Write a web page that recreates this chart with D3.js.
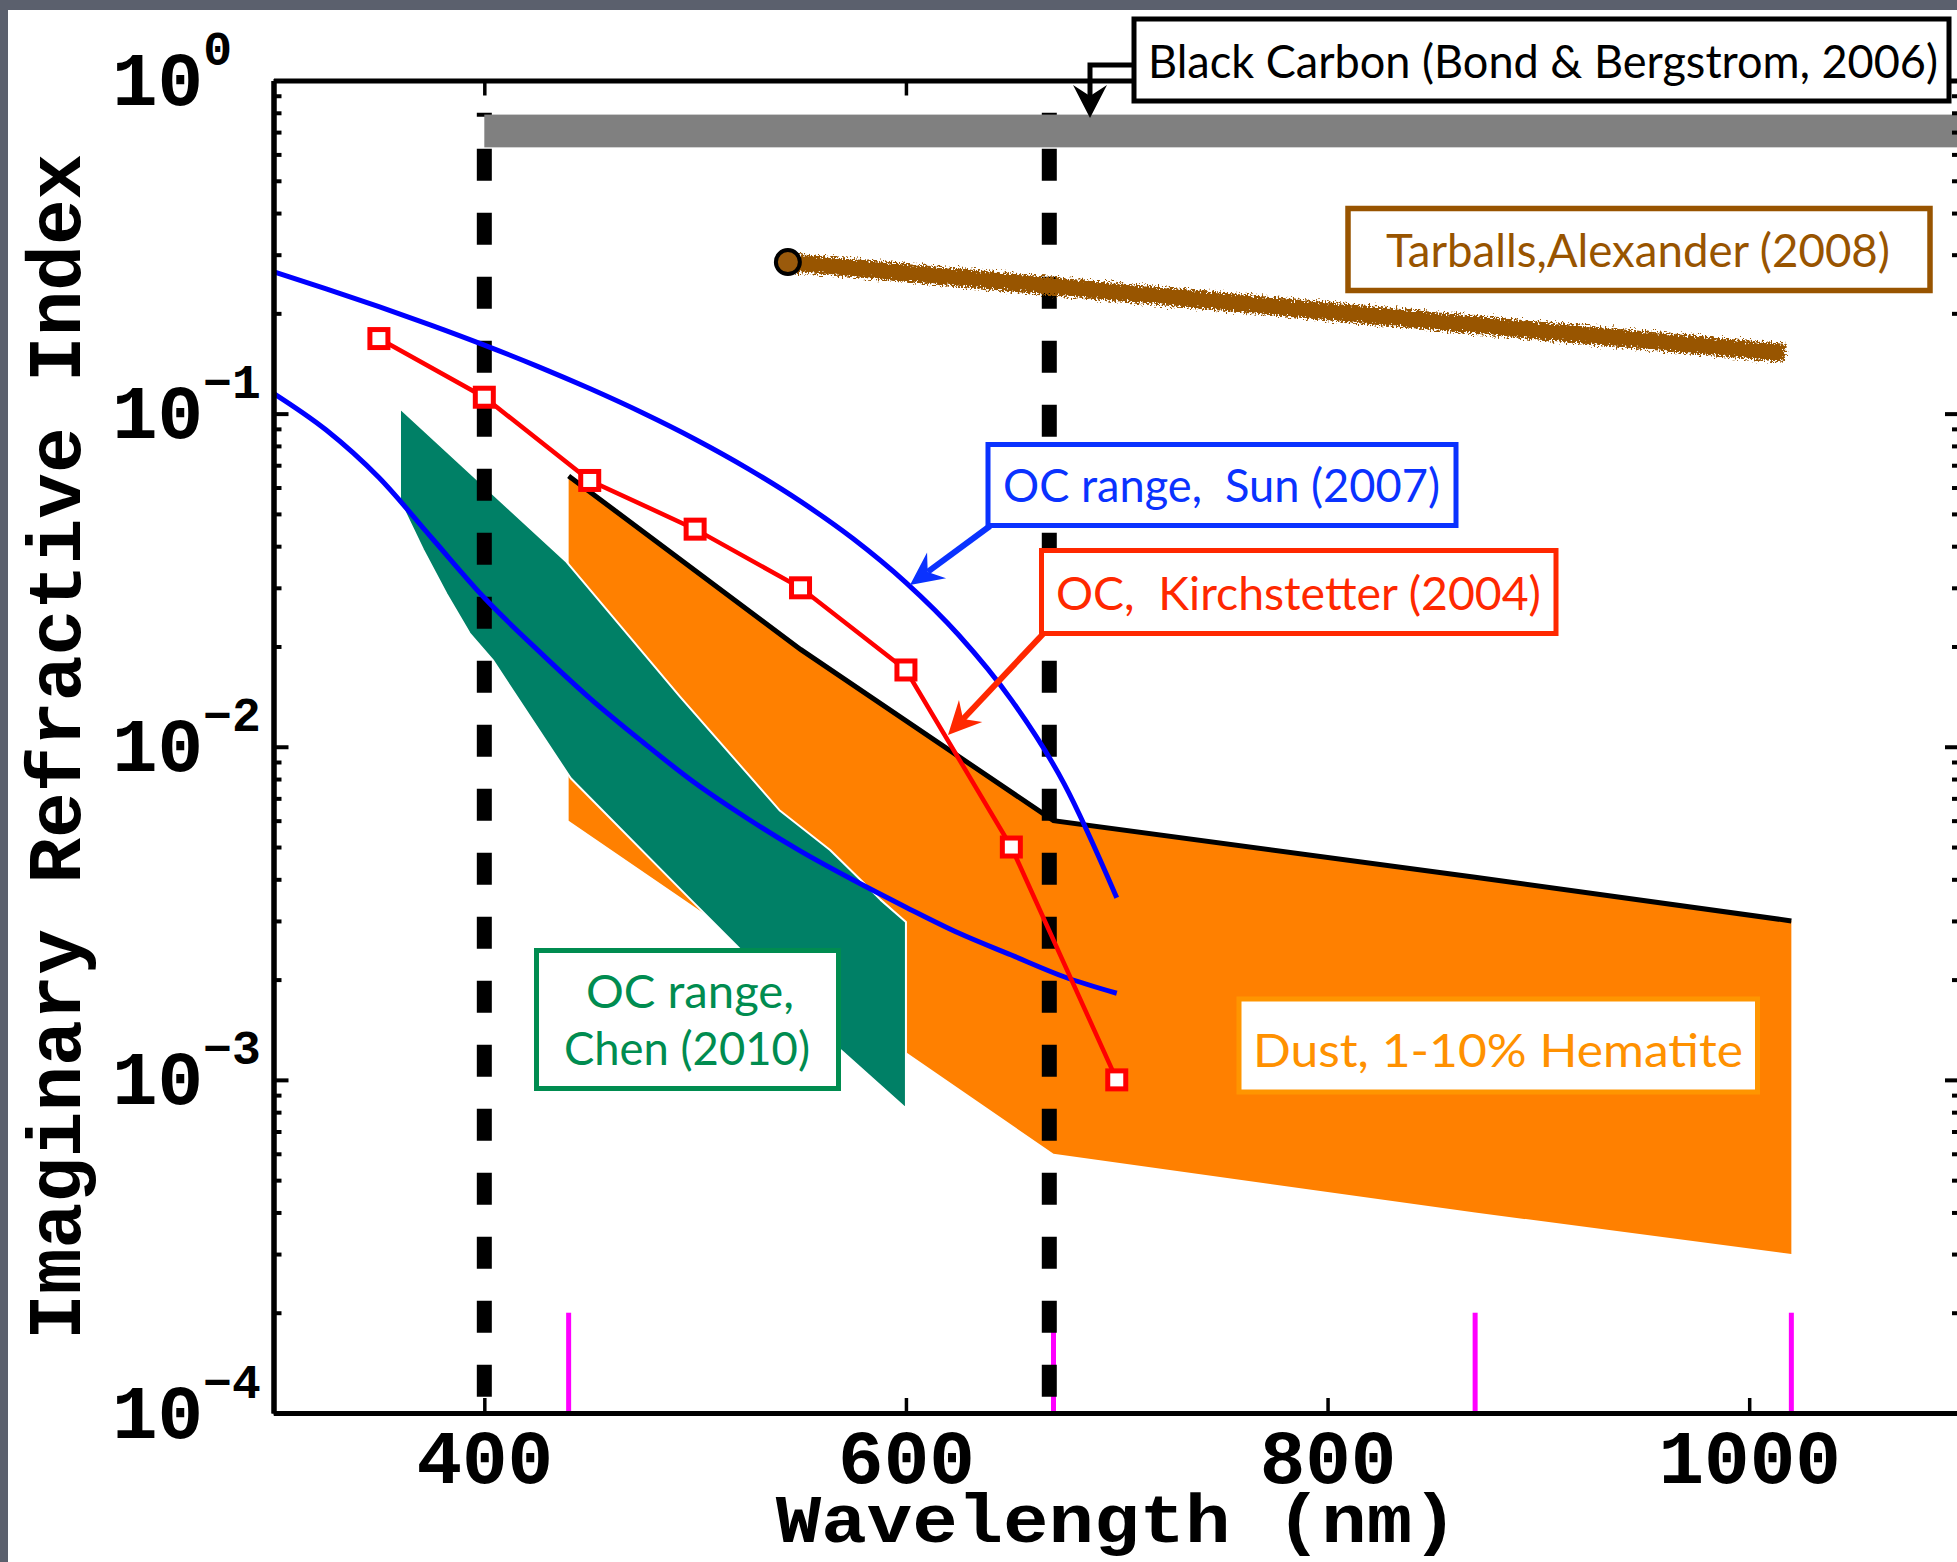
<!DOCTYPE html>
<html><head><meta charset="utf-8">
<script src="https://cdn.jsdelivr.net/npm/d3@7"></script>
<style>
html,body{margin:0;padding:0;background:#fff;overflow:hidden;}
svg{display:block;}
.mono{font-family:"Liberation Mono","Courier New",monospace;font-weight:bold;}
.ann{font-family:Lato,"Open Sans",sans-serif;white-space:pre;}
</style></head>
<body>
<svg id="chart" width="1957" height="1562"></svg>
<script>
// ---------------- DATA ----------------
const xTicks = [400, 600, 800, 1000];
const yMajorTicks = [1, 0.1, 0.01, 0.001, 0.0001];
const yTickExponents = ["0", "\u22121", "\u22122", "\u22123", "\u22124"];

// Black carbon (Bond & Bergstrom 2006) band
const bcWavelength = [400, 1100];
const bcRange = [0.63, 0.79];

// Tarballs (Alexander 2008)
const tarWavelength = [544, 1017];
const tarK = [0.285, 0.152];

// OC range, Sun (2007) – upper and lower curves
const sunUpperWavelength = [300, 325, 350, 375, 400, 425, 450, 475, 500, 525, 550, 575, 600, 625, 650, 675, 700];
const sunUpperK = [0.2667, 0.2369, 0.2095, 0.1841, 0.1606, 0.1389, 0.1189, 0.1006, 0.0838, 0.0684, 0.0545, 0.0421, 0.0311, 0.02165, 0.01383, 0.00775, 0.00352];
const sunLowerWavelength = [300, 325, 350, 375, 400, 425, 450, 475, 500, 525, 550, 575, 600, 625, 650, 675, 700];
const sunLowerK = [0.1151, 0.0893, 0.0643, 0.0424, 0.0280, 0.0196, 0.0140, 0.01035, 0.00778, 0.00608, 0.00486, 0.00398, 0.00330, 0.00276, 0.00237, 0.00204, 0.00182];

// OC, Kirchstetter (2004)
const kirWavelength = [350, 400, 450, 500, 550, 600, 650, 700];
const kirK = [0.168, 0.112, 0.063, 0.045, 0.030, 0.017, 0.005, 0.001];

// Dust, 1-10% hematite
const dustWavelength = [440, 550, 670, 870, 1020];
const dustUpperK = [0.065, 0.0196, 0.006, 0.00406, 0.003];
const dustLowerK = [0.006, 0.002, 0.0006, 0.0004, 0.0003];

// OC range, Chen (2010)
const chenUpperWavelength = [360, 439, 493, 540, 564, 580, 588, 600];
const chenUpperK = [0.1037, 0.0359, 0.0141, 0.00645, 0.0049, 0.0039, 0.00347, 0.00298];
const chenLowerWavelength = [360, 371, 382, 393, 404, 441, 498, 569, 600];
const chenLowerK = [0.0544, 0.0390, 0.0288, 0.0219, 0.0182, 0.00804, 0.00347, 0.00123, 0.00082];

// Reference wavelengths (dashed) and AERONET wavelengths (magenta)
const dashedWavelengths = [400, 668];
const aeronetWavelengths = [440, 670, 870, 1020];
const aeronetRange = [0.0001, 0.0002];

// ---------------- LAYOUT ----------------
const W = 1957, H = 1562;
const svg = d3.select("#chart");
const x = d3.scaleLinear().domain([300, 1100]).range([273.5, 1960]);
const y = d3.scaleLog().domain([1e-4, 1]).range([1413, 80.5]);

const defs = svg.append("defs");
const f = defs.append("filter").attr("id", "rough").attr("x", "-5%").attr("y", "-80%").attr("width", "110%").attr("height", "260%");
f.append("feTurbulence").attr("type", "fractalNoise").attr("baseFrequency", "0.55").attr("numOctaves", 2).attr("seed", 5).attr("result", "n");
f.append("feDisplacementMap").attr("in", "SourceGraphic").attr("in2", "n").attr("scale", 12).attr("xChannelSelector", "R").attr("yChannelSelector", "G");

// slide background
svg.append("rect").attr("width", W).attr("height", H).attr("fill", "#fff");
svg.append("rect").attr("x", 0).attr("y", 0).attr("width", W).attr("height", 10).attr("fill", "#5b606d");
svg.append("rect").attr("x", 0).attr("y", 0).attr("width", 8).attr("height", H).attr("fill", "#5b606d");

const zip = (ws, ks) => ws.map((w, i) => ({w, k: ks[i]}));
const lineGen = d3.line().x(d => x(d.w)).y(d => y(d.k));

// Dust band
const dustPoly = zip(dustWavelength, dustUpperK).concat(zip(dustWavelength, dustLowerK).reverse());
svg.append("path").attr("d", lineGen(dustPoly) + "Z").attr("fill", "#ff8000");

// Chen band
const chenPoly = zip(chenUpperWavelength, chenUpperK).concat(zip(chenLowerWavelength, chenLowerK).reverse());
svg.append("path").attr("d", lineGen(chenPoly) + "Z").attr("fill", "#008066")
  .attr("stroke", "#fff").attr("stroke-width", 2).attr("stroke-linejoin", "round");

// Dust upper black line
svg.append("path").attr("d", lineGen(zip(dustWavelength, dustUpperK)))
  .attr("fill", "none").attr("stroke", "#000").attr("stroke-width", 5);

// magenta AERONET lines
svg.selectAll(".aero").data(aeronetWavelengths).enter().append("line")
  .attr("x1", d => x(d)).attr("x2", d => x(d))
  .attr("y1", y(aeronetRange[0])).attr("y2", y(aeronetRange[1]))
  .attr("stroke", "#ff00ff").attr("stroke-width", 5);

// dashed lines
svg.selectAll(".dash").data(dashedWavelengths).enter().append("line")
  .attr("x1", d => x(d)).attr("x2", d => x(d))
  .attr("y1", y(0.8)).attr("y2", y(1e-4))
  .attr("stroke", "#000").attr("stroke-width", 15)
  .attr("stroke-dasharray", "32,32").attr("stroke-dashoffset", 28);

// Black carbon band
svg.append("rect").attr("x", x(bcWavelength[0])).attr("width", x(bcWavelength[1]) - x(bcWavelength[0]))
  .attr("y", y(bcRange[1])).attr("height", y(bcRange[0]) - y(bcRange[1]))
  .attr("fill", "#808080");

// Sun curves
const curveGen = d3.line().x(d => x(d.w)).y(d => y(d.k)).curve(d3.curveMonotoneX);
[zip(sunUpperWavelength, sunUpperK), zip(sunLowerWavelength, sunLowerK)].forEach(s => {
  svg.append("path").attr("d", curveGen(s)).attr("fill", "none").attr("stroke", "#0000ff").attr("stroke-width", 5);
});

// Kirchstetter
const kir = zip(kirWavelength, kirK);
svg.append("path").attr("d", lineGen(kir)).attr("fill", "none").attr("stroke", "#ff0000").attr("stroke-width", 4.5);
svg.selectAll(".kirm").data(kir).enter().append("rect")
  .attr("x", d => x(d.w) - 9).attr("y", d => y(d.k) - 9).attr("width", 18).attr("height", 18)
  .attr("fill", "#fff").attr("stroke", "#ff0000").attr("stroke-width", 5);

// Tarballs
const tar = zip(tarWavelength, tarK);
svg.append("path").attr("d", lineGen(tar)).attr("fill", "none").attr("stroke", "#985400")
  .attr("stroke-width", 18).attr("filter", "url(#rough)");
svg.append("circle").attr("cx", x(tar[0].w)).attr("cy", y(tar[0].k)).attr("r", 12)
  .attr("fill", "#9a5a0c").attr("stroke", "#000").attr("stroke-width", 4);

// ---------------- AXES ----------------
const minorTicks = [];
for (let e = -4; e < 0; e++) for (let m = 2; m <= 9; m++) minorTicks.push(m * Math.pow(10, e));

function styleAxis(g, sw) {
  g.select(".domain").attr("stroke", "#000").attr("stroke-width", 5);
  g.selectAll(".tick line").attr("stroke", "#000").attr("stroke-width", sw);
  g.selectAll(".tick text").remove();
}
const gAx = svg.append("g");
// left
gAx.append("g").attr("transform", `translate(${x(300)},0)`)
  .call(d3.axisLeft(y).tickValues(minorTicks).tickSize(-8).tickSizeOuter(0).tickFormat(""))
  .call(g => styleAxis(g, 4));
const yLeft = gAx.append("g").attr("transform", `translate(${x(300)},0)`)
  .call(d3.axisLeft(y).tickValues(yMajorTicks).tickSize(-15).tickSizeOuter(0).tickFormat(""))
  .call(g => styleAxis(g, 4));
// right
gAx.append("g").attr("transform", `translate(${x(1100)},0)`)
  .call(d3.axisRight(y).tickValues(minorTicks).tickSize(-8).tickSizeOuter(0).tickFormat(""))
  .call(g => styleAxis(g, 4));
gAx.append("g").attr("transform", `translate(${x(1100)},0)`)
  .call(d3.axisRight(y).tickValues(yMajorTicks).tickSize(-15).tickSizeOuter(0).tickFormat(""))
  .call(g => styleAxis(g, 4));
// bottom
const xBottom = gAx.append("g").attr("transform", `translate(0,${y(1e-4)})`)
  .call(d3.axisBottom(x).tickValues(xTicks).tickSize(-15).tickSizeOuter(0).tickFormat(""))
  .call(g => styleAxis(g, 3.5));
// top
gAx.append("g").attr("transform", `translate(0,${y(1)})`)
  .call(d3.axisTop(x).tickValues(xTicks).tickSize(-15).tickSizeOuter(0).tickFormat(""))
  .call(g => styleAxis(g, 3.5));

// x tick labels
xBottom.selectAll(".tick").append("text")
  .attr("class", "mono").attr("y", 70).attr("text-anchor", "middle")
  .attr("font-size", 76).attr("fill", "#000").text(d => d3.format("d")(d));

// y tick labels with superscripts
yLeft.selectAll(".tick").each(function(d, i) {
  const t = d3.select(this).append("text").attr("class", "mono").attr("fill", "#000")
    .attr("x", 112 - x(300)).attr("y", 24).attr("text-anchor", "start");
  t.append("tspan").attr("font-size", 76).text("10");
  t.append("tspan").attr("font-size", 48).attr("dy", -40).text(yTickExponents[i]);
});

// axis titles
svg.append("text").attr("class", "mono").attr("font-size", 68)
  .attr("x", (x(300) + x(1100)) / 2).attr("y", 1542).attr("text-anchor", "middle")
  .attr("textLength", 682).attr("lengthAdjust", "spacingAndGlyphs")
  .text("Wavelength (nm)");
svg.append("text").attr("class", "mono").attr("font-size", 76)
  .attr("transform", `translate(80,${(y(1) + y(1e-4)) / 2}) rotate(-90)`).attr("text-anchor", "middle")
  .text("Imaginary Refractive Index");

// ---------------- ANNOTATIONS ----------------
function arrowHead(g, tipX, tipY, fromX, fromY, color, len, half, notch) {
  const dx = fromX - tipX, dy = fromY - tipY, L = Math.hypot(dx, dy);
  const ux = dx / L, uy = dy / L, nx = -uy, ny = ux;
  const p = [
    [tipX, tipY],
    [tipX + ux * len + nx * half, tipY + uy * len + ny * half],
    [tipX + ux * notch, tipY + uy * notch],
    [tipX + ux * len - nx * half, tipY + uy * len - ny * half]
  ];
  g.append("path").attr("d", "M" + p.map(q => q.join(",")).join("L") + "Z").attr("fill", color);
  return [tipX + ux * notch, tipY + uy * notch];
}
function arrow(g, fromX, fromY, tipX, tipY, color, sw) {
  const end = arrowHead(g, tipX, tipY, fromX, fromY, color, 33, 16, 22);
  g.append("line").attr("x1", fromX).attr("y1", fromY).attr("x2", end[0]).attr("y2", end[1])
    .attr("stroke", color).attr("stroke-width", sw);
}
const ga = svg.append("g");

function box(x0, y0, x1, y1, stroke, sw) {
  ga.append("rect").attr("x", x0).attr("y", y0).attr("width", x1 - x0).attr("height", y1 - y0)
    .attr("fill", "#fff").attr("stroke", stroke).attr("stroke-width", sw);
}
function label(txt, xs, base, len, color, size, anchor) {
  ga.append("text").attr("class", "ann").attr("x", xs).attr("y", base).attr("fill", color)
    .attr("font-size", size).attr("text-anchor", anchor || "start")
    .attr("textLength", len).attr("lengthAdjust", "spacingAndGlyphs").text(txt);
}

// Black carbon
ga.append("path").attr("d", "M1134,65 H1090 V100").attr("fill", "none").attr("stroke", "#000").attr("stroke-width", 5);
arrowHead(ga, 1090, 118, 1090, 60, "#000", 33, 17, 22);
box(1134, 19, 1949, 101, "#000", 5);
label("Black Carbon (Bond & Bergstrom, 2006)", 1148, 78, 790, "#000", 46);

// Tarballs
box(1348, 208.5, 1930, 290.5, "#985400", 5.5);
label("Tarballs,Alexander (2008)", 1386, 267, 504, "#985400", 46);

// Sun
arrow(ga, 990, 526, 910, 585, "#0a32ff", 6);
box(988, 444.5, 1456, 525.5, "#0a32ff", 5);
label("OC range,  Sun (2007)", 1003, 502, 437, "#0a32ff", 46);

// Kirchstetter
arrow(ga, 1043, 634, 948, 735, "#ff2800", 6);
box(1041.5, 550.5, 1556, 633.5, "#ff2800", 5);
label("OC,  Kirchstetter (2004)", 1056, 610, 485, "#ff2800", 46);

// Chen
box(536.5, 950.5, 838.5, 1088.5, "#008c50", 5);
label("OC range,", 690, 1008, 208, "#008c50", 46, "middle");
label("Chen (2010)", 687, 1065, 246, "#008c50", 46, "middle");

// Dust
box(1239, 999, 1757.5, 1092, "#ff9500", 5);
label("Dust, 1-10% Hematite", 1253, 1067, 490, "#ff9100", 46);
</script>
</body></html>
